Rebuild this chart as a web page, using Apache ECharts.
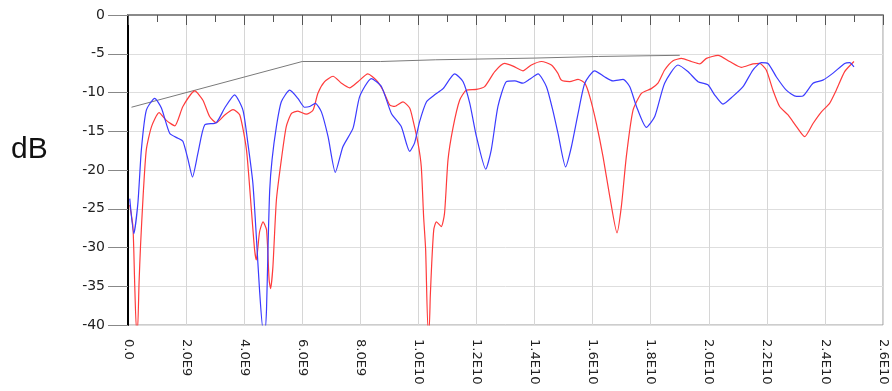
<!DOCTYPE html>
<html>
<head>
<meta charset="utf-8">
<script src="https://cdn.jsdelivr.net/npm/echarts@6/dist/echarts.min.js"></script>
<style>
  html, body { margin: 0; padding: 0; background: #fff; }
  #chart { width: 892px; height: 391px; }
</style>
</head>
<body>
<div id="chart"></div>
<script>
// frequency in GHz, level in dB
const blueFreq = [0.06, 0.2, 0.34, 0.46, 0.63, 0.92, 1.15, 1.44, 1.72, 1.89, 2.07, 2.22, 2.41, 2.64, 3.04, 3.33, 3.67, 3.96, 4.13, 4.3, 4.42, 4.53, 4.65, 4.72, 4.77, 4.82, 4.88, 4.96, 5.11, 5.28, 5.57, 5.85, 6.08, 6.26, 6.45, 6.66, 6.89, 7.14, 7.4, 7.75, 7.98, 8.38, 8.73, 9.07, 9.41, 9.7, 9.87, 10.04, 10.28, 10.56, 10.85, 11.25, 11.54, 11.77, 12.0, 12.32, 12.51, 12.74, 13.03, 13.32, 13.6, 13.83, 14.12, 14.41, 14.63, 14.81, 15.07, 15.27, 15.5, 15.73, 16.07, 16.42, 16.7, 17.05, 17.28, 17.51, 17.85, 18.14, 18.48, 18.94, 19.28, 19.63, 19.97, 20.2, 20.49, 20.83, 21.18, 21.52, 21.81, 22.04, 22.33, 22.67, 23.02, 23.24, 23.59, 23.93, 24.28, 24.68, 24.85, 25.0];
const blueDb = [-23.7, -28.2, -24.3, -17.4, -12.3, -10.75, -12.0, -15.3, -15.9, -16.3, -18.7, -20.9, -17.8, -14.2, -13.9, -12.0, -10.3, -12.3, -16.6, -21.7, -28.6, -35.5, -40.5, -40.5, -38, -30.3, -22.6, -18.7, -14.4, -11.2, -9.7, -10.75, -11.9, -11.8, -11.4, -12.5, -15.7, -20.3, -17.0, -14.6, -10.5, -8.2, -9.25, -12.7, -14.4, -17.6, -16.5, -13.8, -11.2, -10.3, -9.5, -7.6, -8.6, -11.4, -15.7, -19.9, -17.4, -11.8, -8.6, -8.5, -8.8, -8.3, -7.6, -9.25, -12.3, -15.3, -19.6, -17.0, -12.7, -8.8, -7.2, -8.0, -8.5, -8.3, -9.25, -11.8, -14.5, -13.1, -8.8, -6.45, -7.3, -8.6, -9.0, -10.3, -11.5, -10.5, -9.25, -7.1, -6.15, -6.25, -8.0, -9.7, -10.5, -10.45, -8.8, -8.4, -7.5, -6.25, -6.15, -6.7];

const redFreq = [0.06, 0.17, 0.23, 0.29, 0.33, 0.38, 0.43, 0.52, 0.63, 0.81, 1.07, 1.32, 1.61, 1.89, 2.3, 2.58, 2.81, 3.04, 3.33, 3.62, 3.85, 4.08, 4.25, 4.36, 4.42, 4.53, 4.65, 4.77, 4.86, 4.91, 4.99, 5.11, 5.28, 5.45, 5.63, 5.85, 6.14, 6.37, 6.54, 6.77, 7.06, 7.35, 7.63, 7.92, 8.26, 8.55, 8.78, 9.01, 9.18, 9.47, 9.7, 9.81, 9.99, 10.1, 10.18, 10.25, 10.33, 10.37, 10.41, 10.46, 10.53, 10.62, 10.79, 10.9, 11.02, 11.19, 11.42, 11.65, 12.0, 12.28, 12.63, 12.97, 13.26, 13.6, 13.89, 14.24, 14.58, 14.8, 14.92, 15.21, 15.5, 15.73, 15.9, 16.13, 16.36, 16.59, 16.84, 16.99, 17.16, 17.39, 17.68, 18.02, 18.25, 18.48, 18.77, 19.06, 19.4, 19.69, 19.92, 20.32, 20.72, 21.12, 21.52, 21.75, 21.98, 22.21, 22.44, 22.73, 23.02, 23.3, 23.59, 23.88, 24.16, 24.39, 24.68, 25.0];
const redDb = [-24.5, -27.3, -34.6, -40.5, -40.5, -34.6, -29.9, -23.4, -17.4, -14.4, -12.6, -13.6, -14.3, -11.8, -9.8, -11.0, -13.1, -13.9, -12.9, -12.2, -12.9, -17.4, -25.2, -30.3, -31.6, -28, -26.7, -27.7, -34.2, -35.3, -32.5, -23.9, -18.7, -14.4, -12.7, -12.4, -12.8, -12.3, -10.1, -8.6, -7.9, -8.8, -9.4, -8.6, -7.6, -8.4, -9.7, -11.6, -11.8, -11.2, -12.0, -13.5, -16.6, -19.6, -26, -30.3, -40.5, -40.5, -36.3, -32, -27.7, -26.7, -27.3, -25.6, -18.7, -14.6, -11.0, -9.7, -9.6, -9.25, -7.3, -6.25, -6.6, -7.2, -6.45, -6.0, -6.45, -7.5, -8.4, -8.6, -8.3, -8.8, -10.5, -14.0, -18.3, -23.4, -28.1, -24.7, -18.3, -12.3, -10.1, -9.5, -8.8, -7.1, -5.9, -5.6, -6.0, -6.3, -5.6, -5.2, -6.0, -6.75, -6.3, -6.25, -7.1, -9.7, -11.8, -12.9, -14.4, -15.7, -14.0, -12.5, -11.4, -9.7, -7.3, -6.0];

// limit line (small steps, as in the plot)
const limitFreq = [0.12, 6.0, 8.7, 8.7, 10.6, 10.6, 14.0, 14.0, 16.2, 16.2, 19.0];
const limitDb = [-11.9, -6.0, -6.0, -5.78, -5.78, -5.56, -5.56, -5.35, -5.35, -5.2, -5.2];

const xTicks = [0, 2, 4, 6, 8, 10, 12, 14, 16, 18, 20, 22, 24, 26];

function zip(xs, ys) {
  return xs.map((x, i) => [x, ys[i]]);
}

// 2 -> "2.0E9", 10 -> "1.0E10"
function freqLabel(v) {
  if (v === 0) return '0.0';
  return (v * 1e9).toExponential(1).replace('e+', 'E');
}

const chart = echarts.init(document.getElementById('chart'));

const option = {
  animation: false,
  grid: {
    left: 128, right: 9, top: 15, bottom: 66,
    show: true, borderColor: '#9a9a9a', borderWidth: 1
  },
  graphic: [{
    type: 'text', left: 11, top: 135,
    style: { text: 'dB', fontSize: 30, fontFamily: 'Liberation Sans', fill: '#111' }
  }],
  xAxis: {
    type: 'value',
    min: xTicks[0], max: xTicks[xTicks.length - 1], interval: 2,
    axisLine: { lineStyle: { color: '#8a8a8a', width: 2 } },
    axisTick: { length: 10, lineStyle: { color: '#555' } },
    minorTick: { show: true, splitNumber: 2, length: 7, lineStyle: { color: '#555' } },
    axisLabel: {
      rotate: -90, margin: 14, formatter: freqLabel,
      fontFamily: 'DejaVu Sans', fontSize: 13, color: '#222'
    },
    splitLine: { show: true, lineStyle: { color: '#d6d6d6' } }
  },
  yAxis: {
    type: 'value',
    min: -40, max: 0, interval: 5,
    axisLine: { show: true, onZero: false, lineStyle: { color: '#000', width: 2 } },
    axisTick: { show: true, length: 20, lineStyle: { color: '#888' } },
    axisLabel: { margin: 23, fontFamily: 'DejaVu Sans', fontSize: 14, color: '#222' },
    splitLine: { show: true, lineStyle: { color: '#dedede' } }
  },
  series: [
    {
      name: 'limit', type: 'line', data: zip(limitFreq, limitDb),
      showSymbol: false, lineStyle: { color: '#7a7a7a', width: 1 }, z: 1
    },
    {
      name: 'red', type: 'line', data: zip(redFreq, redDb), smooth: 0.2,
      showSymbol: false, lineStyle: { color: '#ff3b3b', width: 1.2 }, z: 2
    },
    {
      name: 'blue', type: 'line', data: zip(blueFreq, blueDb), smooth: 0.2,
      showSymbol: false, lineStyle: { color: '#3b3bff', width: 1.2 }, z: 3
    }
  ]
};

chart.setOption(option);
</script>
</body>
</html>
